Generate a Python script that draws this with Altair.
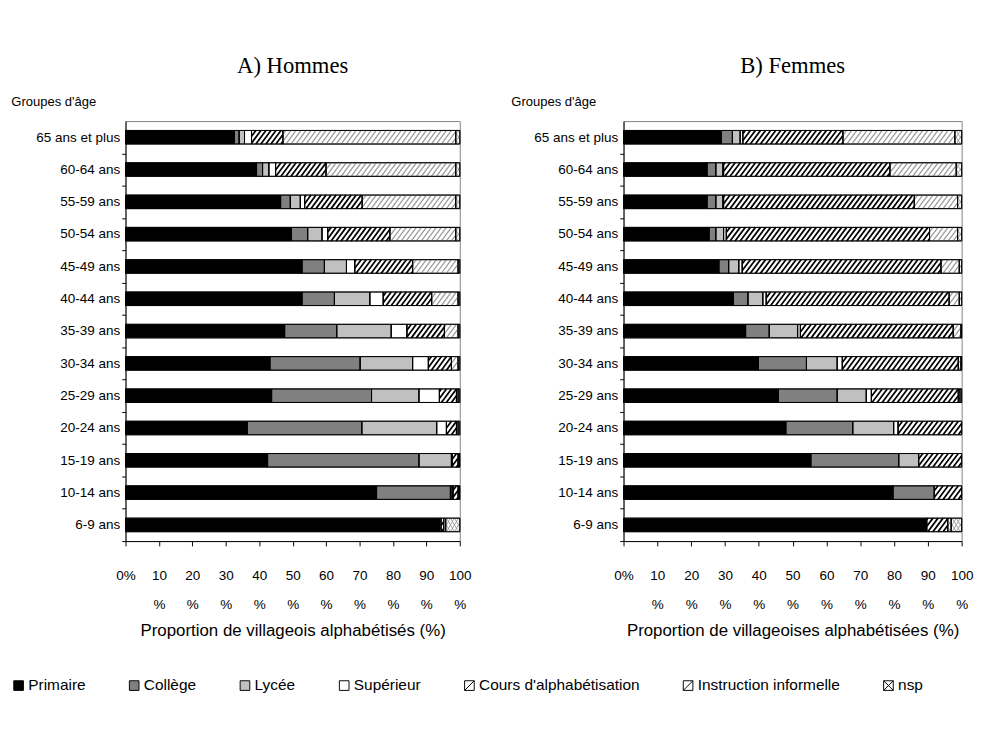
import altair as alt
import pandas as pd

ages = ["65 ans et plus", "60-64 ans", "55-59 ans", "50-54 ans", "45-49 ans",
        "40-44 ans", "35-39 ans", "30-34 ans", "25-29 ans", "20-24 ans",
        "15-19 ans", "10-14 ans", "6-9 ans"]
categories = ["Primaire", "Collège", "Lycée", "Supérieur",
              "Cours d'alphabétisation", "Instruction informelle", "nsp"]
cat_colors = ["#000000", "#808080", "#c0c0c0", "#ffffff", "#ffffff", "#ffffff", "#ffffff"]

# Hommes (one value per age group, top to bottom)
h_primaire = [32.6, 39.2, 46.4, 49.6, 52.8, 52.8, 47.6, 43.2, 43.7, 36.4, 42.5, 75.1, 93.6]
h_college = [1.4, 1.8, 2.9, 4.9, 6.7, 9.7, 15.6, 27.0, 29.9, 34.3, 45.3, 22.1, 0.2]
h_lycee = [1.6, 1.9, 3.0, 4.3, 6.6, 10.6, 16.3, 15.7, 14.2, 22.4, 9.7, 0.5, 0.2]
h_superieur = [2.1, 2.0, 1.3, 1.7, 2.5, 4.0, 4.7, 4.7, 6.1, 2.9, 0.3, 0.3, 0.4]
h_cours = [9.4, 15.1, 17.2, 18.6, 17.3, 14.5, 11.2, 6.9, 5.1, 3.0, 1.7, 1.5, 0.8]
h_informelle = [51.7, 38.8, 28.0, 19.7, 13.6, 7.9, 4.1, 2.0, 0.5, 0.5, 0.3, 0.3, 0.6]
h_nsp = [1.2, 1.2, 1.2, 1.2, 0.5, 0.5, 0.5, 0.5, 0.5, 0.5, 0.2, 0.2, 4.2]

# Femmes
f_primaire = [28.9, 24.7, 24.7, 25.3, 28.2, 32.5, 36.1, 39.9, 45.8, 48.0, 55.4, 79.7, 89.7]
f_college = [3.3, 2.6, 2.6, 2.0, 2.9, 4.3, 7.0, 14.2, 17.4, 19.8, 26.0, 12.2, 0.0]
f_lycee = [2.3, 2.1, 2.1, 2.3, 3.0, 4.4, 8.4, 9.1, 8.6, 12.1, 5.9, 0.0, 0.0]
f_superieur = [0.8, 0.2, 0.2, 0.8, 1.0, 1.0, 0.8, 1.5, 1.5, 1.3, 0.0, 0.0, 0.0]
f_cours = [29.6, 49.2, 56.4, 60.1, 58.8, 54.1, 45.2, 34.3, 25.7, 18.8, 12.7, 8.1, 6.2]
f_informelle = [33.1, 19.6, 12.8, 8.3, 5.4, 3.0, 2.3, 0.8, 0.5, 0.0, 0.0, 0.0, 1.0]
f_nsp = [2.0, 1.6, 1.2, 1.2, 0.7, 0.7, 0.2, 0.2, 0.5, 0.0, 0.0, 0.0, 3.1]

series = {
    "H": [h_primaire, h_college, h_lycee, h_superieur, h_cours, h_informelle, h_nsp],
    "F": [f_primaire, f_college, f_lycee, f_superieur, f_cours, f_informelle, f_nsp],
}

HALF = 0.21
rows = []
n = len(ages)
for sexe, lists in series.items():
    for i, age in enumerate(ages):
        idx = n - 1 - i
        acc = 0.0
        for c, lst in zip(categories, lists):
            v = lst[i]
            rows.append({"sexe": sexe, "age": age, "idx": idx, "cat": c,
                         "start": acc, "end": acc + v,
                         "y0": idx - HALF, "y1": idx + HALF})
            acc += v
df = pd.DataFrame(rows)
legend_df = pd.DataFrame({"cat": categories})

labels_by_idx = list(reversed(ages))
label_expr = "[" + ",".join('"%s"' % a for a in labels_by_idx) + "][datum.value]"

HEIGHT = 436
STEP = HEIGHT / 13.0

sq = "M-1,-1H1V1H-1Z"
shape_range = [sq, sq, sq, sq,
               sq + " M-1,1L1,-1",
               sq + " M-1,1L1,-1",
               sq + " M-1,-1L1,1 M-1,1L1,-1"]


def make_axes(xtitle, title_x):
    xaxis = alt.Axis(
        title=xtitle, values=list(range(0, 101, 10)),
        labelExpr="datum.value == 0 ? '0%' : [format(datum.value, 'd'), '%']",
        labelBaseline="top", labelLineHeight=30, labelPadding=24,
        labelFontSize=14, labelFlush=False, labelOverlap=False,
        tickSize=5, titleFontSize=17.5, titlePadding=11,
    )
    yaxis = alt.Axis(
        title="Groupes d'âge", titleAngle=0, titleAlign="left",
        titleBaseline="middle", titleX=title_x, titleY=-20, titleFontSize=13.5,
        titleFontWeight="normal",
        values=list(range(13)), labelExpr=label_expr, labelFontSize=14,
        tickOffset=STEP / 2, labelOffset=-STEP / 2, tickSize=4, labelPadding=2,
    )
    return xaxis, yaxis


def hatch(d, xs, ys, xaxis, yaxis, cat, sp, dx, color, width, down=False):
    if down:
        ya = "datum.y1 - (datum.xa - datum.o)/%s*(datum.y1 - datum.y0)" % dx
        yb = "datum.y1 - (datum.xb - datum.o)/%s*(datum.y1 - datum.y0)" % dx
    else:
        ya = "datum.y0 + (datum.xa - datum.o)/%s*(datum.y1 - datum.y0)" % dx
        yb = "datum.y0 + (datum.xb - datum.o)/%s*(datum.y1 - datum.y0)" % dx
    return (
        alt.Chart(d)
        .transform_filter('datum.cat == "%s" && datum.end - datum.start > 0.05' % cat)
        .transform_calculate(
            offs="sequence(floor((datum.start - %s)/%s)*%s, datum.end, %s)" % (dx, sp, sp, sp))
        .transform_flatten(["offs"], as_=["o"])
        .transform_calculate(xa="max(datum.o, datum.start)",
                             xb="min(datum.o + %s, datum.end)" % dx)
        .transform_filter("datum.xb > datum.xa")
        .transform_calculate(ya=ya, yb=yb)
        .mark_rule(color=color, strokeWidth=width)
        .encode(
            x=alt.X("xa:Q", scale=xs, axis=xaxis),
            x2="xb:Q",
            y=alt.Y("ya:Q", scale=ys, axis=yaxis),
            y2="yb:Q",
        )
    )


def panel(sexe, title, xtitle, width, title_x):
    d = df[df.sexe == sexe]
    xs = alt.Scale(domain=[0, 100], nice=False, zero=True)
    ys = alt.Scale(domain=[-0.5, 12.5], nice=False, zero=False)
    xaxis, yaxis = make_axes(xtitle, title_x)
    seg = alt.Chart(d).transform_filter("datum.end - datum.start > 0.05")
    bars = seg.mark_rect(stroke="black", strokeWidth=0.8).encode(
        x=alt.X("start:Q", scale=xs, axis=xaxis),
        x2="end:Q",
        y=alt.Y("y0:Q", scale=ys, axis=yaxis),
        y2="y1:Q",
        color=alt.Color("cat:N", scale=alt.Scale(domain=categories, range=cat_colors), legend=None),
    )
    outline = seg.mark_rect(stroke="black", strokeWidth=1, fillOpacity=0).encode(
        x=alt.X("start:Q", scale=xs, axis=xaxis),
        x2="end:Q",
        y=alt.Y("y0:Q", scale=ys, axis=yaxis),
        y2="y1:Q",
    )
    layers = [
        bars,
        hatch(d, xs, ys, xaxis, yaxis, "Instruction informelle", 1.5, 3.0, "#9a9a9a", 1.3),
        hatch(d, xs, ys, xaxis, yaxis, "Cours d'alphabétisation", 1.5, 3.0, "#000000", 1.8),
        hatch(d, xs, ys, xaxis, yaxis, "nsp", 1.2, 2.4, "#8a8a8a", 0.8),
        hatch(d, xs, ys, xaxis, yaxis, "nsp", 1.2, 2.4, "#8a8a8a", 0.8, down=True),
        outline,
    ]
    return alt.layer(*layers).properties(
        width=width, height=HEIGHT,
        title=alt.TitleParams(text=title, frame="group", anchor="middle", offset=18),
    )


left = panel("H", "A) Hommes", "Proportion de villageois alphabétisés (%)", 347, -119)
right = panel("F", "B) Femmes", "Proportion de villageoises alphabétisées (%)", 351, -117)

leg_spec = alt.Legend(title=None, orient="none", legendX=-119, legendY=0,
                      direction="horizontal", columns=7,
                      labelFontSize=16, labelFont="Liberation Sans",
                      labelColor="black", symbolSize=100, symbolStrokeWidth=1,
                      symbolOpacity=1,
                      columnPadding=42, labelLimit=400, labelOffset=2)

legend_chart = (
    alt.Chart(legend_df)
    .transform_filter("datum.cat == 'aucun'")
    .mark_point(filled=True, stroke="black", strokeWidth=1, size=100, opacity=1)
    .encode(
        fill=alt.Fill("cat:N", scale=alt.Scale(domain=categories, range=cat_colors), legend=leg_spec),
        shape=alt.Shape("cat:N", scale=alt.Scale(domain=categories, range=shape_range), legend=leg_spec),
    )
    .properties(width=1, height=1, view=alt.ViewBackground(strokeOpacity=0))
)

chart = (
    alt.vconcat(alt.hconcat(left, right, spacing=39), legend_chart, spacing=40)
    .resolve_scale(fill="independent", shape="independent")
    .resolve_legend(fill="independent", shape="independent")
    .properties(padding={"left": 2, "top": 35, "right": 5, "bottom": 5})
    .configure_view(stroke="#808080", strokeWidth=1)
    .configure_axis(labelFont="Liberation Sans", titleFont="Liberation Sans",
                    labelColor="black", titleColor="black", domainColor="black",
                    tickColor="black", grid=False, titleFontWeight="normal")
    .configure_title(font="Liberation Serif", fontSize=23.5, fontWeight="normal", color="black")
)

chart.save("out.html", embed_options={"renderer": "svg", "actions": False})
